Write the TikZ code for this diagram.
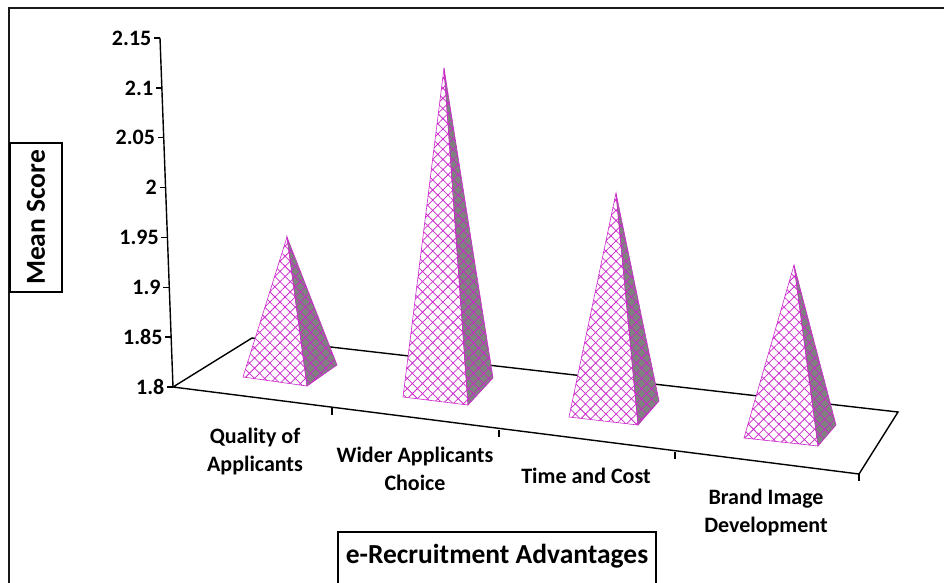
\documentclass[tikz,border=0pt]{standalone}
\usepackage{fontspec}
\setmainfont{Carlito}
\usetikzlibrary{patterns.meta}
\definecolor{pyrmag}{RGB}{204,40,204}
\definecolor{pyrgray}{RGB}{128,128,128}

\begin{document}
\begin{tikzpicture}[x=1pt,y=-1pt,
    lbl/.style={font=\fontsize{22}{28}\selectfont\bfseries, align=center},
    ttl/.style={font=\fontsize{27.5}{30}\selectfont\bfseries},
    face/.style={draw=pyrmag, line width=0.6pt, pattern={Hatch[angle=45,distance=7.2pt,line width=0.75pt]}, pattern color=pyrmag},
    axisline/.style={line width=1.4pt}]
    \useasboundingbox (0,0) rectangle (944,582);
    \clip (0,0) rectangle (944,582);

    % Outer frame
    \draw[line width=2.2pt, black!90] (9,8) rectangle (960,600);

    % Floor
    \coordinate (fl) at (173,387);
    \coordinate (bl) at (252,338);
    \coordinate (br) at (898,412);
    \coordinate (fr) at (859,474);
    \draw[axisline] (fr) -- (fl) -- (bl) -- (br) -- (fr);

    % Floor ticks
    \foreach \x/\y in {332/408, 499/430, 675/452, 859/474}
        \draw[axisline] (\x,\y) -- ++(0,7);

    % Value axis
    \coordinate (ytop) at (160,38);
    \draw[axisline] (fl) -- (ytop);
    \foreach \v/\t in {0/1.8, 1/1.85, 2/1.9, 3/1.95, 4/2, 5/2.05, 6/2.1, 7/2.15} {
        \pgfmathsetmacro{\ty}{387-\v*49.857}
        \pgfmathsetmacro{\tx}{173-\v*1.857}
        \draw[axisline] (\tx,\ty) -- ++(-6,0) node[lbl, left, inner sep=2pt] (ytick\v) {\t};
    }

    % Pyramids: apex / front-left / front-right / back-right
    \foreach \n/\a/\l/\r/\k in {q/{287,237}/{243,377}/{307,386}/{337,365},
                                w/{444,68}/{403,397}/{468,405}/{493,378},
                                t/{616,193}/{569,417}/{638,425}/{659,401},
                                b/{794,265}/{744,438}/{818,446}/{836,425}} {
        \coordinate (\n apex) at (\a);
        \coordinate (\n left) at (\l);
        \coordinate (\n right) at (\r);
        \coordinate (\n back) at (\k);
        \draw[face, preaction={fill=white}] (\n apex) -- (\n left) -- (\n right) -- cycle;
        \draw[face, preaction={fill=pyrgray}] (\n apex) -- (\n right) -- (\n back) -- cycle;
    }

    % Category labels
    \node[lbl] (quality) at (255,451) {Quality of\\Applicants};
    \node[lbl] (wider) at (415,469) {Wider Applicants\\Choice};
    \node[lbl] (timecost) at (586,476) {Time and Cost};
    \node[lbl] (brand) at (766,512) {Brand Image\\Development};

    % Axis titles
    \node[ttl, draw, line width=1.2pt, rotate=90, minimum width=149pt, minimum height=52pt] (meanscore) at (36,217.5) {Mean Score};
    \draw[line width=1.2pt] (338,532) rectangle (656,600);
    \node[ttl] (advantages) at (497,556) {e-Recruitment Advantages};
\end{tikzpicture}
\end{document}
